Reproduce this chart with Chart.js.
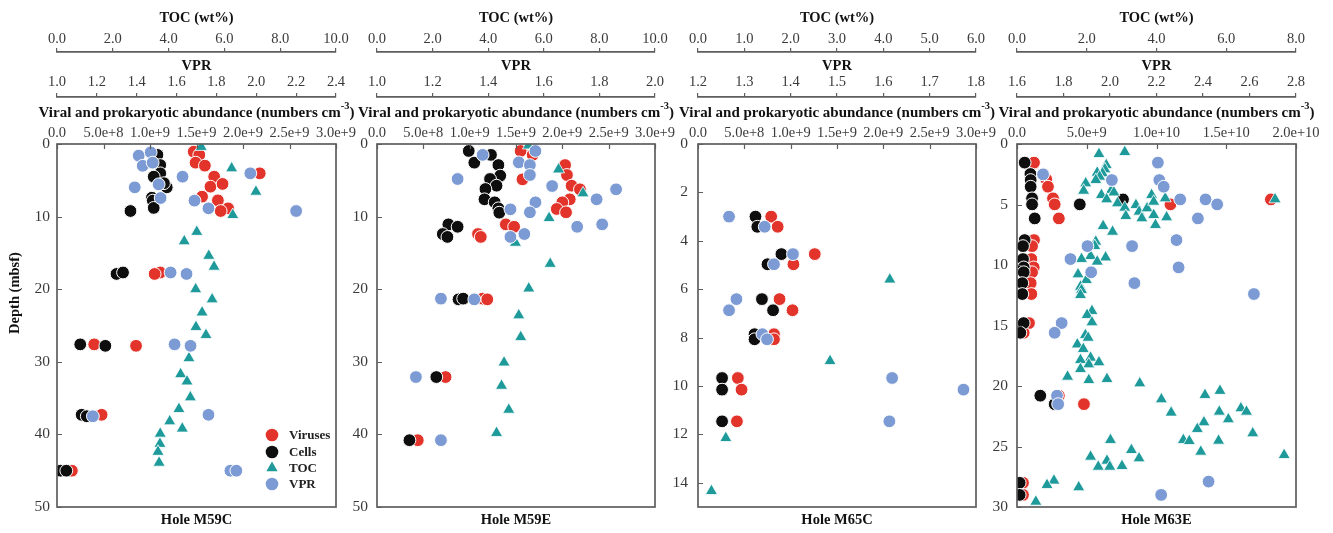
<!DOCTYPE html>
<html><head><meta charset="utf-8">
<script src="https://cdn.jsdelivr.net/npm/chart.js@4.4.0/dist/chart.umd.min.js"></script>
<style>
html,body{margin:0;padding:0;background:#fff;}
#wrap{position:relative;width:1333px;height:533px;overflow:hidden;background:#fff;}
canvas{position:absolute;left:0;top:0;}
</style></head><body><div id="wrap">
<canvas id="c1" width="1333" height="533"></canvas>
<canvas id="c2" width="1333" height="533"></canvas>
<canvas id="c3" width="1333" height="533"></canvas>
<canvas id="c4" width="1333" height="533"></canvas>
</div>
<script>
// ---------------- DATA ----------------
// Hole M59C
const m59cVirusDepth = [1.06,1.5,2.57,2.98,4.5,5.88,5.5,4.04,7.25,7.76,8.86,9.23,17.7,17.9,27.6,27.8,37.3,45.0];
const m59cVirus = [1.47e9,1.53e9,1.49e9,1.59e9,1.69e9,1.65e9,1.78e9,2.18e9,1.56e9,1.73e9,1.84e9,1.76e9,1.11e9,1.05e9,4.0e8,8.5e8,4.8e8,1.6e8];
const m59cCellDepth = [1.5,2.9,4.04,4.5,5.97,5.4,7.4,7.8,8.8,9.23,17.9,17.7,27.6,27.8,37.3,37.5,45.0,45.0];
const m59cCell = [1.08e9,1.11e9,1.11e9,1.04e9,1.18e9,1.15e9,1.02e9,1.03e9,1.04e9,7.9e8,6.4e8,7.1e8,2.5e8,5.2e8,2.65e8,3.2e8,4e7,1e8];
const m59cTocDepth = [0.4,3.35,6.57,9.78,12.1,13.4,15.4,16.9,20.0,21.4,23.2,25.2,26.3,29.5,31.7,32.7,34.9,36.5,38.2,39.2,39.9,41.3,42.4,43.9];
const m59cToc = [5.17,6.26,7.13,6.30,5.01,4.56,5.44,5.63,4.97,5.56,5.20,4.98,5.34,4.73,4.43,4.66,4.78,4.37,4.04,4.49,3.70,3.69,3.62,3.66];
const m59cVprDepth = [1.6,1.15,3.0,2.57,5.56,5.97,4.5,7.44,7.8,8.86,4.04,9.23,17.7,17.9,27.6,27.8,37.5,37.3,45.0,45.0];
const m59cVpr = [1.41,1.47,1.43,1.48,1.51,1.39,1.63,1.52,1.69,1.76,1.97,2.20,1.57,1.65,1.59,1.67,1.18,1.76,1.87,1.90];

// Hole M59E
const m59eVirusDepth = [0.96,1.5,2.9,4.27,4.87,5.74,6.24,7.62,8.03,8.95,9.41,11.07,11.4,12.4,12.8,21.3,21.4,32.1,40.8];
const m59eVirus = [1.55e9,1.68e9,2.03e9,2.05e9,1.57e9,2.10e9,2.19e9,2.08e9,2.00e9,1.94e9,2.04e9,1.39e9,1.48e9,1.09e9,1.12e9,1.14e9,1.19e9,7.4e8,4.4e8];
const m59eCellDepth = [0.96,1.5,2.57,2.9,4.36,4.82,5.74,6.2,7.62,8.03,8.86,9.46,11.07,11.4,12.4,12.8,21.4,21.3,32.1,40.8];
const m59eCell = [9.9e8,1.23e9,1.05e9,1.31e9,1.33e9,1.22e9,1.29e9,1.17e9,1.16e9,1.27e9,1.31e9,1.32e9,7.7e8,8.7e8,7.1e8,7.6e8,8.8e8,9.3e8,6.4e8,3.5e8];
const m59eTocDepth = [0.2,3.5,6.8,10.2,13.6,16.5,19.9,23.6,26.6,30.1,33.3,36.6,39.8];
const m59eToc = [5.45,6.53,7.41,6.19,4.98,6.23,5.46,5.10,5.17,4.57,4.48,4.74,4.30];
const m59eVprDepth = [1.5,0.96,4.82,2.53,2.9,4.27,5.79,6.24,7.62,8.03,9.0,9.41,11.4,11.07,12.8,12.4,21.3,21.4,32.1,40.8];
const m59eVpr = [1.38,1.57,1.29,1.51,1.55,1.55,1.63,1.86,1.79,1.57,1.48,1.55,1.72,1.81,1.48,1.53,1.23,1.35,1.14,1.23];

// Hole M65C
const m65cDepth = [3.0,3.42,4.55,4.97,6.41,6.87,7.86,8.07,9.67,10.15,11.46];
const m65cVirus = [7.9e8,8.6e8,1.26e9,1.03e9,8.8e8,1.02e9,8.2e8,8.2e8,4.3e8,4.7e8,4.2e8];
const m65cCell = [6.2e8,6.4e8,9.0e8,7.5e8,6.9e8,8.1e8,6.1e8,6.1e8,2.6e8,2.6e8,2.6e8];
const m65cVpr = [1.267,1.344,1.405,1.364,1.283,1.267,1.339,1.349,1.619,1.773,1.613];
const m65cTocDepth = [5.6,8.97,12.15,14.34];
const m65cToc = [4.14,2.85,0.60,0.29];

// Hole M63E
const m63eVirusDepth = [1.54,2.5,2.92,3.53,4.49,4.99,6.15,7.94,8.44,9.51,10.2,10.6,11.5,12.4,14.8,15.6,20.8,21.5,4.99,4.58,28.0,29.0];
const m63eVirus = [1.22e9,1.9e9,2.1e9,2.22e9,2.58e9,2.7e9,3.0e9,1.22e9,1.08e9,1.03e9,1.2e9,1.08e9,9.8e8,1.03e9,8.6e8,4.8e8,3.0e9,4.8e9,1.10e10,1.82e10,4.3e8,4.3e8];
const m63eCellDepth = [1.54,2.48,2.98,3.53,4.49,4.99,6.15,4.99,4.58,7.94,8.44,9.51,10.2,10.6,11.5,12.4,14.8,15.6,20.8,21.5,28.0,29.0];
const m63eCell = [5.5e8,9.6e8,9.8e8,9.8e8,1.08e9,1.08e9,1.27e9,4.5e9,7.6e9,5.5e8,4.3e8,4.3e8,4.8e8,4.8e8,3.8e8,3.8e8,4.8e8,2.4e8,1.67e9,2.7e9,1.9e8,1.9e8];
const m63eTocDepth = [0.83,0.66,1.74,2.09,2.42,2.37,2.70,2.98,3.25,3.86,3.80,4.0,4.21,4.57,4.90,5.26,5.95,5.04,5.59,6.14,5.32,4.21,4.77,5.87,6.69,4.49,6.06,4.57,6.78,7.25,8.07,8.43,9.26,9.37,9.72,9.5,
  10.77,11.24,11.79,12.07,12.48,13.80,14.13,14.74,15.79,16.01,16.56,16.94,17.66,17.85,18.21,18.04,18.6,19.23,19.51,19.42,19.78,
  21.1,20.74,20.4,22.2,22.12,21.84,22.12,22.75,23.0,23.55,23.91,24.46,24.55,24.52,25.43,25.7,24.46,25.29,25.98,25.84,26.17,26.67,26.67,26.61,27.82,28.18,28.37,29.56];
const m63eToc = [2.35,3.09,2.56,2.52,2.45,2.30,2.37,2.26,1.97,1.91,2.71,2.78,2.42,2.57,2.88,3.09,3.12,3.41,3.50,3.58,3.73,3.86,3.92,3.92,3.97,4.25,4.29,7.40,2.47,2.74,2.26,2.23,2.11,2.54,2.30,1.85,
  1.75,1.99,1.82,1.85,1.82,2.15,2.01,2.15,1.96,2.04,1.73,1.90,2.11,1.82,2.06,2.35,1.82,1.45,2.06,2.58,3.52,
  4.14,5.39,5.82,4.42,5.80,6.42,6.58,6.06,5.36,5.17,6.76,4.77,4.94,5.78,5.27,7.66,2.68,3.28,3.50,2.11,2.58,2.33,2.66,3.01,1.06,0.86,1.77,0.54];
const m63eVprDepth = [2.51,2.98,1.54,2.98,3.53,4.58,4.58,4.99,6.15,8.44,8.44,7.94,9.51,10.2,10.6,11.5,12.4,14.8,15.6,20.8,21.5,27.9,29.0];
const m63eVpr = [1.712,2.008,2.206,2.212,2.231,2.302,2.411,2.461,2.378,1.903,2.095,2.286,1.830,2.295,1.919,2.105,2.619,1.792,1.762,1.772,1.777,2.424,2.220];

// Tick labels
const tocTicks10 = [0,2,4,6,8,10];
const tocTicks6 = [0,1,2,3,4,5,6];
const tocTicks8 = [0,2,4,6,8];
const vprTicksA = [1.0,1.2,1.4,1.6,1.8,2.0,2.2,2.4];
const vprTicksB = [1.0,1.2,1.4,1.6,1.8,2.0];
const vprTicksC = [1.2,1.3,1.4,1.5,1.6,1.7,1.8];
const vprTicksD = [1.6,1.8,2.0,2.2,2.4,2.6,2.8];
const abTicks3e9 = [0,5e8,1e9,1.5e9,2e9,2.5e9,3e9];
const abTicks2e10 = [0,5e9,1e10,1.5e10,2e10];
const depthTicks50 = [0,10,20,30,40,50];
const depthTicks15 = [0,2,4,6,8,10,12,14];
const depthTicks30 = [0,5,10,15,20,25,30];
const holeNames = ['Hole M59C','Hole M59E','Hole M65C','Hole M63E'];
const legendLabels = ['Viruses','Cells','TOC','VPR'];
const abTitle = ['Viral and prokaryotic abundance (numbers cm', '-3', ')'];

// ---------------- STYLE / LAYOUT ----------------
const FONT = "'Liberation Serif','Times New Roman','DejaVu Serif',serif";
const RED = '#E3342B', BLACK = '#0e0e0e', TEAL = '#1E9A9B', BLUE = '#7C9BD4';
const FRAME = '#5e5e5e';

const zip = (d, v) => d.map((y, i) => ({x: v[i], y: y}));

const panels = [
  {id:'c1', left:57, right:336, yw:57, ypad:7, name:holeNames[0], yMax:50, yTicks:depthTicks50,
   toc:[10,tocTicks10], vpr:[1.0,2.4,vprTicksA], ab:[3e9,abTicks3e9],
   V:zip(m59cVirusDepth,m59cVirus), C:zip(m59cCellDepth,m59cCell), T:zip(m59cTocDepth,m59cToc), P:zip(m59cVprDepth,m59cVpr),
   depthTitle:true, legend:true},
  {id:'c2', left:377, right:655, yw:30, ypad:9, name:holeNames[1], yMax:50, yTicks:depthTicks50,
   toc:[10,tocTicks10], vpr:[1.0,2.0,vprTicksB], ab:[3e9,abTicks3e9],
   V:zip(m59eVirusDepth,m59eVirus), C:zip(m59eCellDepth,m59eCell), T:zip(m59eTocDepth,m59eToc), P:zip(m59eVprDepth,m59eVpr)},
  {id:'c3', left:698, right:976, yw:30, ypad:10, name:holeNames[2], yMax:15, yTicks:depthTicks15,
   toc:[6,tocTicks6], vpr:[1.2,1.8,vprTicksC], ab:[3e9,abTicks3e9],
   V:zip(m65cDepth,m65cVirus), C:zip(m65cDepth,m65cCell), T:zip(m65cTocDepth,m65cToc), P:zip(m65cDepth,m65cVpr)},
  {id:'c4', left:1017, right:1296, yw:30, ypad:9, name:holeNames[3], yMax:30, yTicks:depthTicks30,
   toc:[8,tocTicks8], vpr:[1.6,2.8,vprTicksD], ab:[2e10,abTicks2e10],
   V:zip(m63eVirusDepth,m63eVirus), C:zip(m63eCellDepth,m63eCell), T:zip(m63eTocDepth,m63eToc), P:zip(m63eVprDepth,m63eVpr)}
];

const fmt1 = v => Number(v).toFixed(1);
const fmtE = v => v === 0 ? '0.0' : Number(v).toExponential(1);
const setTicks = arr => scale => { scale.ticks = arr.map(v => ({value: v})); };
const fixH = h => scale => { scale.height = h; };
const tickFont = {family: FONT, size: 14.5};
const yTickFont = {family: FONT, size: 15.5};

function drawAbTitle(ctx, cx, cy) {
  // size the title so it spans ~316px, like the reference
  const target = 316;
  ctx.font = 'bold 15px ' + FONT;
  const w0 = ctx.measureText(abTitle[0]).width + ctx.measureText(abTitle[2]).width;
  ctx.font = 'bold 10.5px ' + FONT;
  const w1 = ctx.measureText(abTitle[1]).width;
  const s = 15 * target / (w0 + w1);
  const fMain = 'bold ' + s.toFixed(2) + 'px ' + FONT;
  const fSup = 'bold ' + (s * 0.7).toFixed(2) + 'px ' + FONT;
  ctx.font = fMain; const a = ctx.measureText(abTitle[0]).width; const c = ctx.measureText(abTitle[2]).width;
  ctx.font = fSup; const b = ctx.measureText(abTitle[1]).width;
  let x = cx - (a + b + c) / 2;
  ctx.textAlign = 'left'; ctx.textBaseline = 'middle'; ctx.fillStyle = '#111';
  ctx.font = fMain; ctx.fillText(abTitle[0], x, cy); x += a;
  ctx.font = fSup; ctx.fillText(abTitle[1], x, cy - s * 0.42); x += b;
  ctx.font = fMain; ctx.fillText(abTitle[2], x, cy);
}

function decorPlugin(p) {
  return {
    id: 'decor_' + p.id,
    afterDraw(chart) {
      const ctx = chart.ctx, a = chart.chartArea;
      ctx.save();
      // inward ticks on left (depth) and top (abundance)
      ctx.strokeStyle = FRAME; ctx.lineWidth = 1.2;
      const ys = chart.scales.y, xs = chart.scales.xAb;
      ctx.beginPath();
      p.yTicks.forEach(v => { const yy = Math.round(ys.getPixelForValue(v)) + 0.5; ctx.moveTo(a.left, yy); ctx.lineTo(a.left + 5, yy); });
      p.ab[1].forEach(v => { const xx = Math.round(xs.getPixelForValue(v)) + 0.5; ctx.moveTo(xx, a.top); ctx.lineTo(xx, a.top + 5); });
      ctx.stroke();
      // frame
      ctx.lineWidth = 1.7;
      ctx.strokeRect(a.left, a.top, a.right - a.left, a.bottom - a.top);
      // abundance axis title
      drawAbTitle(ctx, (a.left + a.right) / 2, 113);
      // hole label
      ctx.fillStyle = '#111';
      ctx.font = 'bold 14.5px ' + FONT;
      ctx.textAlign = 'center'; ctx.textBaseline = 'middle';
      ctx.fillText(p.name, (a.left + a.right) / 2, 520);
      if (p.depthTitle) {
        ctx.save();
        ctx.translate(15, 293); ctx.rotate(-Math.PI / 2);
        ctx.fillText('Depth (mbsf)', 0, 0);
        ctx.restore();
      }
      if (p.legend) {
        const mx = a.right - 64, tx = a.right - 47;
        const rows = [435, 452, 468, 484];
        const cols = [RED, BLACK, TEAL, BLUE];
        ctx.font = 'bold 13px ' + FONT;
        ctx.textAlign = 'left';
        rows.forEach((ry, i) => {
          ctx.fillStyle = cols[i];
          ctx.beginPath();
          if (i === 2) {
            const r = 6.5;
            ctx.moveTo(mx, ry - r); ctx.lineTo(mx + r * 0.866, ry + r / 2); ctx.lineTo(mx - r * 0.866, ry + r / 2); ctx.closePath();
          } else {
            ctx.arc(mx, ry, 6.3, 0, Math.PI * 2);
          }
          ctx.fill();
          ctx.fillStyle = '#222';
          ctx.fillText(legendLabels[i], tx, ry + 1);
        });
      }
      ctx.restore();
    }
  };
}

function topAxis(min, max, ticks, weight, h, fmt, title, tSize, tPad, lPad, line) {
  return {
    type: 'linear', position: 'top', weight: weight, min: min, max: max,
    afterBuildTicks: setTicks(ticks), afterFit: fixH(h),
    grid: line ? {display: true, drawOnChartArea: false, drawTicks: true, tickLength: 4, color: FRAME, lineWidth: 1.2}
               : {display: false, drawTicks: false},
    border: line ? {display: true, color: FRAME, width: 1.7} : {display: false},
    ticks: {font: tickFont, color: '#3a3a3a', padding: lPad, autoSkip: false, maxRotation: 0, minRotation: 0, callback: fmt},
    title: {display: !!title, text: title || '', font: {family: FONT, size: tSize, weight: 'bold'}, color: '#111', padding: {top: tPad, bottom: 0}}
  };
}

panels.forEach(p => {
  new Chart(document.getElementById(p.id), {
    type: 'scatter',
    data: {datasets: [
      {label: legendLabels[0], data: p.V, xAxisID: 'xAb', yAxisID: 'y', backgroundColor: RED, borderColor: '#fff', borderWidth: 1, pointRadius: 6.4, order: 4},
      {label: legendLabels[1], data: p.C, xAxisID: 'xAb', yAxisID: 'y', backgroundColor: BLACK, borderColor: '#fff', borderWidth: 1, pointRadius: 6.4, order: 3},
      {label: legendLabels[2], data: p.T, xAxisID: 'xToc', yAxisID: 'y', backgroundColor: TEAL, borderColor: '#fff', borderWidth: 0.8, pointStyle: 'triangle', pointRadius: 7, order: 2},
      {label: legendLabels[3], data: p.P, xAxisID: 'xVpr', yAxisID: 'y', backgroundColor: BLUE, borderColor: '#fff', borderWidth: 1, pointRadius: 6.4, order: 1}
    ]},
    options: {
      responsive: false, animation: false, events: [],
      layout: {padding: {left: p.left - p.yw, right: 1333 - p.right, top: 0, bottom: 26}},
      plugins: {legend: {display: false}, tooltip: {enabled: false}},
      scales: {
        xAb: topAxis(0, p.ab[0], p.ab[1], 0, 47, fmtE, null, 15.5, 6.7, 2.3, false),
        xVpr: topAxis(p.vpr[0], p.vpr[1], p.vpr[2], 1, 45, fmt1, 'VPR', 14.5, 5.3, 2.3, true),
        xToc: topAxis(0, p.toc[0], p.toc[1], 2, 52, fmt1, 'TOC (wt%)', 14.5, 9.3, 0.3, true),
        y: {
          type: 'linear', position: 'left', reverse: true, min: 0, max: p.yMax,
          afterBuildTicks: setTicks(p.yTicks), afterFit: s => { s.width = p.yw; },
          grid: {display: false, drawTicks: false}, border: {display: false},
          ticks: {font: yTickFont, color: '#3a3a3a', padding: p.ypad, autoSkip: false}
        }
      }
    },
    plugins: [decorPlugin(p)]
  });
});
</script>
</body></html>
